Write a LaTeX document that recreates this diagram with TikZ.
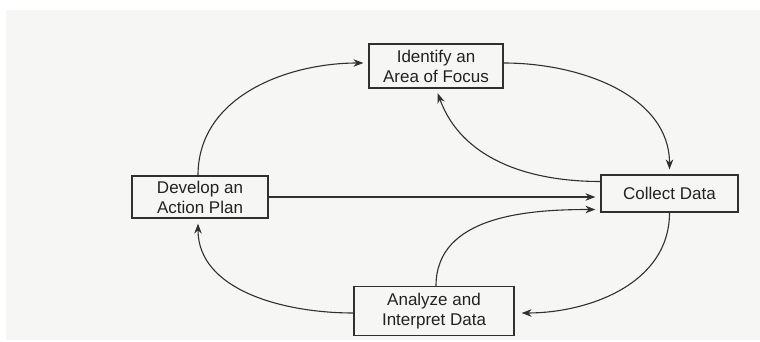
\documentclass[tikz,border=0pt]{standalone}
\usepackage{fontspec}
\setmainfont{Liberation Sans}
\usetikzlibrary{arrows.meta}
\definecolor{ink}{HTML}{303030}
\definecolor{lettering}{HTML}{222222}
\definecolor{paper}{HTML}{F6F7F4}
\begin{document}
\begin{tikzpicture}[x=1pt,y=-1pt,
  stagebox/.style={draw=ink, line width=1.2pt, text=lettering, align=center,
    inner sep=0pt, font=\fontsize{17}{20}\selectfont},
  flow/.style={draw=ink, line width=1.1pt,
    -{Stealth[length=10pt,width=7.5pt]}, shorten >=5pt}]
  % page and tinted sheet
  \useasboundingbox (0,0) rectangle (760,342);
  \fill[white] (0,0) rectangle (760,342);
  \fill[paper] (6,10) rectangle (760,340);

  % the four stages of the cycle
  \node[stagebox, minimum width=134pt, minimum height=44pt] (focus) at (436,66) {Identify an\\Area of Focus};
  \node[stagebox, minimum width=136pt, minimum height=42pt] (plan) at (200,197) {Develop an\\Action Plan};
  \node[stagebox, minimum width=137pt, minimum height=37pt] (collect) at (669.5,193.5) {Collect Data};
  \node[stagebox, minimum width=160pt, minimum height=49pt] (analyze) at (434,311) {Analyze and\\Interpret Data};

  % connectors
  \draw[flow] ([xshift=-2pt]plan.north) to[out=90,in=180] ([yshift=3pt]focus.west);
  \draw[flow] ([yshift=3pt]focus.east) to[out=0,in=90] (collect.north);
  \draw[flow] ([yshift=12pt]collect.west) to[out=180,in=-70] (focus.south);
  \draw[flow] (plan.east) -- (collect.west |- plan.east);
  \draw[flow] ([xshift=2pt]analyze.north) to[out=90,in=180] ([yshift=-16pt]collect.west);
  \draw[flow, shorten >=7pt] (collect.south) to[out=-90,in=0] ([yshift=-2pt]analyze.east);
  \draw[flow] ([yshift=-2pt]analyze.west) to[out=180,in=-90] ([xshift=-2pt]plan.south);
\end{tikzpicture}
\end{document}
